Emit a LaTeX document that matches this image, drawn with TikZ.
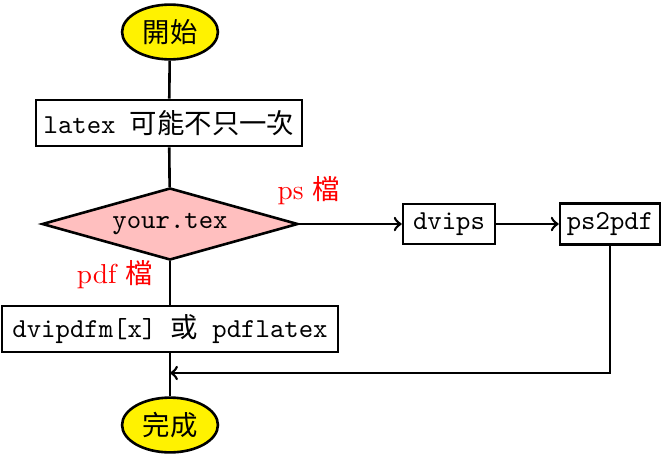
\documentclass[tikz,border=0pt]{standalone}
\usepackage{fontspec}
\newfontfamily\cjk{Noto Sans CJK TC}
\usetikzlibrary{shapes.geometric}
\begin{document}
\begin{tikzpicture}[x=0.365pt,y=-0.365pt,
  every node/.style={font=\fontsize{10pt}{12pt}\selectfont},
  line/.style={line width=0.95pt},
  arr/.style={line width=0.95pt,->},
  term/.style={ellipse,draw,line width=0.95pt,fill=yellow,minimum width=35pt,minimum height=20pt,inner sep=0pt},
  proc/.style={rectangle,draw,line width=0.95pt,fill=white,inner sep=0pt,font=\fontsize{10pt}{12pt}\selectfont\ttfamily},
  decide/.style={diamond,draw,line width=0.95pt,fill=pink,aspect=3.56,inner sep=0pt,minimum width=93.4pt,minimum height=26.3pt,font=\fontsize{10pt}{12pt}\selectfont\ttfamily},
  lbl/.style={text=red,inner sep=0pt}]
\useasboundingbox (0,0) rectangle (668,453);
\node[term] (start) at (170,32) {\cjk 開始};
\node[proc,minimum width=97.1pt,minimum height=16.8pt] (latex) at (169,123) {latex {\cjk 可能不只一次}};
\node[decide] (tex) at (170,224) {your.tex};
\node[proc,minimum width=33.6pt,minimum height=14.6pt] (dvips) at (449,224) {dvips};
\node[proc,minimum width=36.5pt,minimum height=15pt] (ps2pdf) at (610,224) {ps2pdf};
\node[proc,minimum width=122.6pt,minimum height=16.8pt] (dvipdfm) at (170,329) {dvipdfm[x] {\cjk 或} pdflatex};
\node[term] (done) at (170,425) {\cjk 完成};
\node[lbl] (pslbl) at (309,191) {ps {\cjk 檔}};
\node[lbl] (pdflbl) at (115,275) {pdf {\cjk 檔}};
\coordinate (join) at (170,373);
\coordinate (corner) at (610,373);
\draw[line] (start) -- (latex);
\draw[line] (latex) -- (tex);
\draw[line] (tex) -- (dvipdfm);
\draw[line] (dvipdfm) -- (done);
\draw[arr] (tex.east) -- (dvips.west);
\draw[arr] (dvips) -- (ps2pdf);
\draw[arr] (ps2pdf.south) -- (corner) -- (join);
\end{tikzpicture}
\end{document}
